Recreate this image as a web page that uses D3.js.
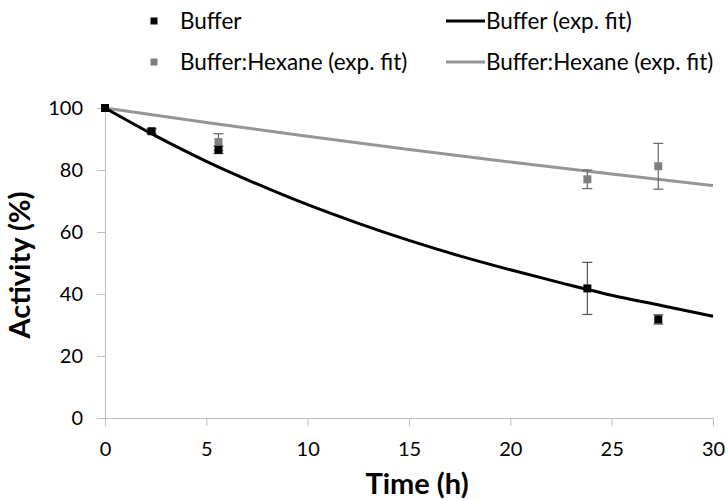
<!DOCTYPE html>
<html>
<head>
<meta charset="utf-8">
<script src="https://cdn.jsdelivr.net/npm/d3@7"></script>
<style>
  body { margin: 0; background: #fff; }
  text { font-family: Lato, "Open Sans", sans-serif; }
</style>
</head>
<body>
<div id="chart-area"></div>
<script>
// measured points (time h, activity %, error)
const bufferPts = [
  {t: 0, v: 100, e: 0},
  {t: 2.3, v: 92.5, e: 0.8},
  {t: 5.6, v: 86.5, e: 1.2},
  {t: 23.8, v: 41.8, e: 8.4},
  {t: 27.3, v: 31.8, e: 1.5}
]
const hexanePts = [
  {t: 0, v: 100, e: 0},
  {t: 5.6, v: 89, e: 2.7},
  {t: 23.8, v: 77, e: 3},
  {t: 27.3, v: 81.2, e: 7.4}
]
// fitted curves
const bufferFit = [
  [0, 100], [2.5, 91], [5, 82.8], [7.5, 75.5], [10, 68.8], [12.5, 62.8], [15, 57.3],
  [17.5, 52.3], [20, 47.8], [22.5, 43.6], [25, 39.6], [27.5, 36.2], [30, 32.8]
]
const hexaneFit = [
  [0, 100], [5, 95.3], [10, 90.9], [15, 86.6], [20, 82.6], [25, 78.7], [30, 75]
]
const xTicks = [0, 5, 10, 15, 20, 25, 30]
const yTicks = [0, 20, 40, 60, 80, 100]

const W = 728, H = 501
const LEFT = 105, RIGHT = 713, TOP = 108, BOTTOM = 418
const BLACK = "#000", GREY_PT = "#7f7f7f", GREY_LN = "#969696", AXIS = "#bfbfbf"

const svg = d3.select("#chart-area").append("svg")
  .attr("width", W)
  .attr("height", H)

const x = d3.scaleLinear().domain([0, 30]).range([LEFT, RIGHT])
const y = d3.scaleLinear().domain([0, 100]).range([BOTTOM, TOP])

// X axis
const xAxis = svg.append("g")
  .attr("transform", `translate(0, ${BOTTOM})`)
  .call(d3.axisBottom(x).tickValues(xTicks).tickSize(8).tickPadding(16))
xAxis.select(".domain").attr("stroke", AXIS)
xAxis.selectAll(".tick line").attr("stroke", AXIS)
xAxis.selectAll("text").attr("font-size", "20px").attr("fill", "#000")
  .style("font-family", "Lato, sans-serif")

// Y axis
const yAxis = svg.append("g")
  .attr("transform", `translate(${LEFT}, 0)`)
  .call(d3.axisLeft(y).tickValues(yTicks).tickSize(8).tickPadding(14))
yAxis.select(".domain").attr("stroke", AXIS)
yAxis.selectAll(".tick line").attr("stroke", AXIS)
yAxis.selectAll("text").attr("font-size", "20px").attr("fill", "#000")
  .style("font-family", "Lato, sans-serif")

// axis titles
svg.append("text")
  .attr("x", 417)
  .attr("y", 494)
  .attr("text-anchor", "middle")
  .attr("font-size", "29px")
  .attr("font-weight", "bold")
  .text("Time (h)")

svg.append("text")
  .attr("transform", `translate(30, 265) rotate(-90)`)
  .attr("text-anchor", "middle")
  .attr("font-size", "29px")
  .attr("font-weight", "bold")
  .text("Activity (%)")

// fit lines
const line = d3.line().x(d => x(d[0])).y(d => y(d[1])).curve(d3.curveMonotoneX)
svg.append("path").datum(hexaneFit)
  .attr("d", line).attr("fill", "none")
  .attr("stroke", GREY_LN).attr("stroke-width", 3)
svg.append("path").datum(bufferFit)
  .attr("d", line).attr("fill", "none")
  .attr("stroke", BLACK).attr("stroke-width", 3)

// error bars + markers
function drawPoints(pts, color, barColor) {
  const g = svg.append("g")
  const eb = g.selectAll("g.err").data(pts.filter(d => d.e > 0)).enter().append("g")
  eb.append("line")
    .attr("x1", d => x(d.t)).attr("x2", d => x(d.t))
    .attr("y1", d => y(d.v + d.e)).attr("y2", d => y(d.v - d.e))
    .attr("stroke", barColor).attr("stroke-width", 1.2)
  eb.append("line")
    .attr("x1", d => x(d.t) - 5).attr("x2", d => x(d.t) + 5)
    .attr("y1", d => y(d.v + d.e)).attr("y2", d => y(d.v + d.e))
    .attr("stroke", barColor).attr("stroke-width", 1.2)
  eb.append("line")
    .attr("x1", d => x(d.t) - 5).attr("x2", d => x(d.t) + 5)
    .attr("y1", d => y(d.v - d.e)).attr("y2", d => y(d.v - d.e))
    .attr("stroke", barColor).attr("stroke-width", 1.2)
  g.selectAll("rect").data(pts).enter().append("rect")
    .attr("x", d => x(d.t) - 4)
    .attr("y", d => y(d.v) - 4)
    .attr("width", 8)
    .attr("height", 8)
    .attr("fill", color)
}
drawPoints(hexanePts, GREY_PT, "#666")
drawPoints(bufferPts, BLACK, "#555")

// legend
const legend = [
  {label: "Buffer", type: "square", color: BLACK, x: 154, y: 21},
  {label: "Buffer:Hexane (exp. fit)", type: "square", color: GREY_PT, x: 154, y: 62},
  {label: "Buffer (exp. fit)", type: "line", color: BLACK, x: 446, y: 21},
  {label: "Buffer:Hexane (exp. fit)", type: "line", color: GREY_LN, x: 446, y: 62}
]
const lg = svg.selectAll("g.legend").data(legend).enter().append("g")
  .attr("transform", d => `translate(${d.x}, ${d.y})`)
lg.filter(d => d.type === "square").append("rect")
  .attr("x", -3.5).attr("y", -3.5).attr("width", 7).attr("height", 7)
  .attr("fill", d => d.color)
lg.filter(d => d.type === "line").append("line")
  .attr("x1", 0).attr("x2", 39).attr("y1", 0).attr("y2", 0)
  .attr("stroke", d => d.color).attr("stroke-width", 3)
lg.append("text")
  .attr("x", d => d.type === "square" ? 26 : 40)
  .attr("y", 0)
  .attr("dy", "0.35em")
  .attr("font-size", "22.5px")
  .text(d => d.label)
</script>
</body>
</html>
